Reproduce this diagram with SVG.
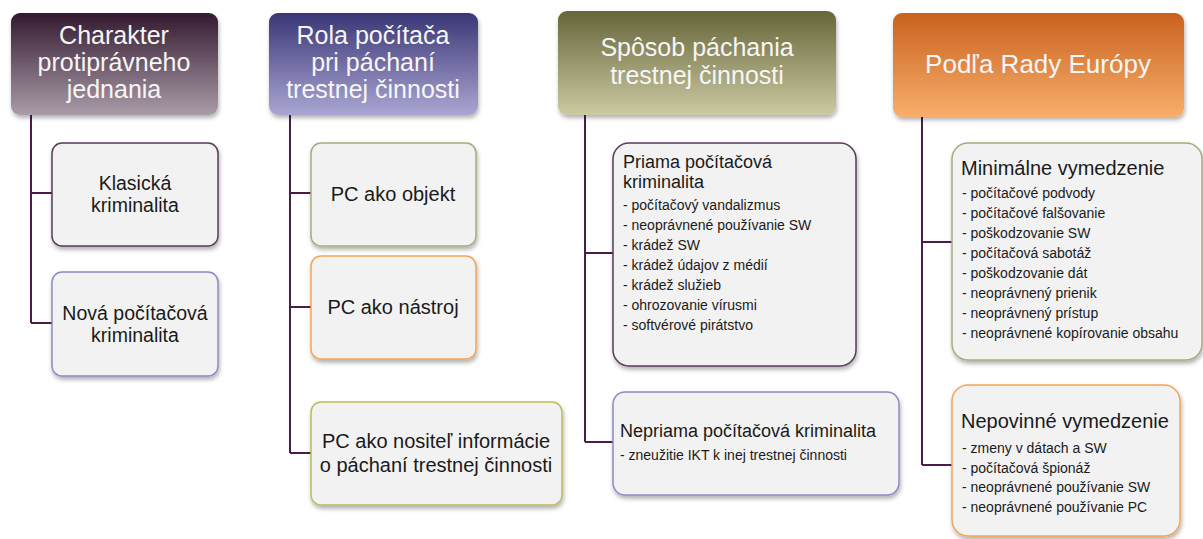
<svg xmlns="http://www.w3.org/2000/svg" width="1203" height="539" viewBox="0 0 1203 539">
<defs>
<linearGradient id="g1" x1="0" y1="0" x2="0" y2="1"><stop offset="0" stop-color="#341a30"/><stop offset="1" stop-color="#aa9ca8"/></linearGradient>
<linearGradient id="g2" x1="0" y1="0" x2="0" y2="1"><stop offset="0" stop-color="#3a3676"/><stop offset="1" stop-color="#aaa6d2"/></linearGradient>
<linearGradient id="g3" x1="0" y1="0" x2="0" y2="1"><stop offset="0" stop-color="#66653a"/><stop offset="1" stop-color="#cccaa2"/></linearGradient>
<linearGradient id="g4" x1="0" y1="0" x2="0" y2="1"><stop offset="0" stop-color="#c9621e"/><stop offset="1" stop-color="#f8ae6c"/></linearGradient>
<filter id="sh" x="-10%" y="-10%" width="120%" height="125%"><feDropShadow dx="1" dy="3" stdDeviation="2" flood-color="#000" flood-opacity="0.3"/></filter>
</defs>
<style>
.hd{font-family:"Liberation Sans",Arial,sans-serif;font-size:25px;fill:#f6f6f6;text-anchor:middle}
.bx{fill:#f2f2f2;stroke-width:1.5}
.t{font-family:"Liberation Sans",Arial,sans-serif;fill:#1a1a1a}
.c{text-anchor:middle;font-size:19.5px}
.c2{text-anchor:middle;font-size:20px}
.ti{font-size:18px}
.tb{font-size:20px}
.li{font-size:14px}
.cn{fill:none;stroke:#4a1c4a;stroke-width:2}
</style>
<rect width="1203" height="539" fill="#fff"/>
<g id="connectors">
<path class="cn" d="M31 115V323M31 193H52M31 323H52"/>
<path class="cn" d="M290 115V453M290 193H311M290 307H311M290 453H311"/>
<path class="cn" d="M585 115V442M585 253H613M585 442H613"/>
<path class="cn" d="M922 117V465M922 242H952M922 465H952"/>
</g>
<g id="h1"><rect x="11" y="13" width="207" height="102" rx="9" fill="url(#g1)" filter="url(#sh)"/>
<text class="hd" x="114" y="44">Charakter</text><text class="hd" x="114" y="71">protiprávneho</text><text class="hd" x="114" y="98">jednania</text></g>
<g id="h2"><rect x="269" y="13" width="209" height="102" rx="9" fill="url(#g2)" filter="url(#sh)"/>
<text class="hd" x="373" y="44">Rola počítača</text><text class="hd" x="373" y="71">pri páchaní</text><text class="hd" x="373" y="98">trestnej činnosti</text></g>
<g id="h3"><rect x="558" y="11" width="278" height="104" rx="9" fill="url(#g3)" filter="url(#sh)"/>
<text class="hd" x="697" y="56">Spôsob páchania</text><text class="hd" x="697" y="84">trestnej činnosti</text></g>
<g id="h4"><rect x="893" y="13" width="291" height="104" rx="9" fill="url(#g4)" filter="url(#sh)"/>
<text class="hd" x="1038" y="73" style="font-size:26px">Podľa Rady Európy</text></g>
<g id="n1"><rect class="bx" x="52" y="143" width="166" height="103" rx="10" stroke="#5a3a5a" filter="url(#sh)"/>
<text class="t c" x="135" y="190">Klasická</text><text class="t c" x="135" y="212">kriminalita</text></g>
<g id="n2"><rect class="bx" x="52" y="272" width="166" height="104" rx="10" stroke="#8a8ac4" filter="url(#sh)"/>
<text class="t c" x="135" y="320">Nová počítačová</text><text class="t c" x="135" y="342">kriminalita</text></g>
<g id="n3"><rect class="bx" x="311" y="143" width="165" height="103" rx="10" stroke="#aaaa7c" filter="url(#sh)"/>
<text class="t c2" x="393" y="201">PC ako objekt</text></g>
<g id="n4"><rect class="bx" x="311" y="256" width="165" height="103" rx="10" stroke="#f3a556" filter="url(#sh)"/>
<text class="t c2" x="393" y="314">PC ako nástroj</text></g>
<g id="n5"><rect class="bx" x="311" y="402" width="251" height="103" rx="10" stroke="#bcbc58" filter="url(#sh)"/>
<text class="t c2" x="436" y="448">PC ako nositeľ informácie</text><text class="t c2" x="436" y="472">o páchaní trestnej činnosti</text></g>
<g id="n6"><rect class="bx" x="613" y="143" width="243" height="223" rx="16" stroke="#5a3a5a" filter="url(#sh)"/>
<text class="t ti" x="623" y="168">Priama počítačová</text><text class="t ti" x="623" y="188">kriminalita</text>
<text class="t li" x="623" y="210">- počítačový vandalizmus</text>
<text class="t li" x="623" y="230">- neoprávnené používanie SW</text>
<text class="t li" x="623" y="250">- krádež SW</text>
<text class="t li" x="623" y="270">- krádež údajov z médií</text>
<text class="t li" x="623" y="290">- krádež služieb</text>
<text class="t li" x="623" y="310">- ohrozovanie vírusmi</text>
<text class="t li" x="623" y="330">- softvérové pirátstvo</text></g>
<g id="n7"><rect class="bx" x="613" y="392" width="286" height="103" rx="12" stroke="#8a8ac4" filter="url(#sh)"/>
<text class="t ti" x="620" y="437">Nepriama počítačová kriminalita</text>
<text class="t li" x="620" y="460">- zneužitie IKT k inej trestnej činnosti</text></g>
<g id="n8"><rect class="bx" x="952" y="143" width="250" height="217" rx="16" stroke="#aaaa7c" filter="url(#sh)"/>
<text class="t tb" x="961" y="175">Minimálne vymedzenie</text>
<text class="t li" x="962" y="198">- počítačové podvody</text>
<text class="t li" x="962" y="218">- počítačové falšovanie</text>
<text class="t li" x="962" y="238">- poškodzovanie SW</text>
<text class="t li" x="962" y="258">- počítačová sabotáž</text>
<text class="t li" x="962" y="278">- poškodzovanie dát</text>
<text class="t li" x="962" y="298">- neoprávnený prienik</text>
<text class="t li" x="962" y="318">- neoprávnený prístup</text>
<text class="t li" x="962" y="338">-  neoprávnené kopírovanie obsahu</text></g>
<g id="n9"><rect class="bx" x="952" y="385" width="228" height="151" rx="16" stroke="#f3a556" filter="url(#sh)"/>
<text class="t tb" x="961" y="428">Nepovinné vymedzenie</text>
<text class="t li" x="962" y="453">- zmeny v dátach a SW</text>
<text class="t li" x="962" y="473">- počítačová špionáž</text>
<text class="t li" x="962" y="492">- neoprávnené používanie SW</text>
<text class="t li" x="962" y="512">- neoprávnené používanie PC</text></g>
</svg>
